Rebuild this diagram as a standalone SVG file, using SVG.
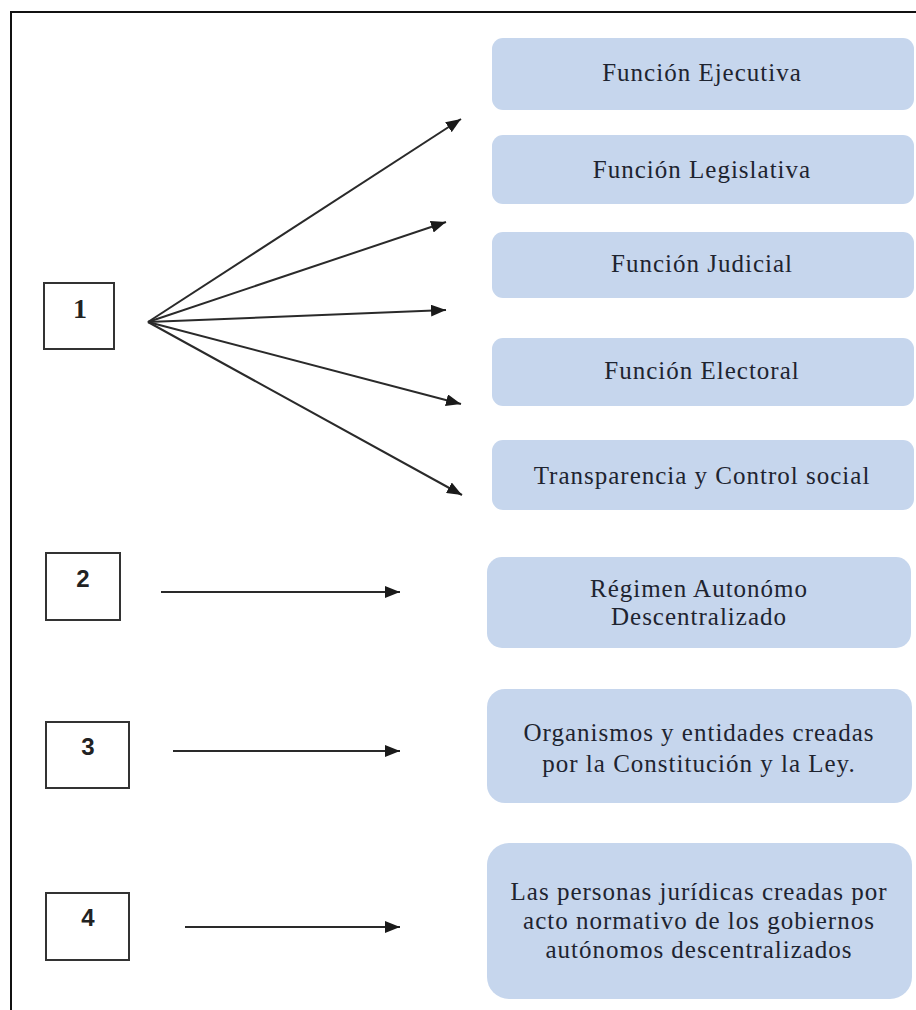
<svg xmlns="http://www.w3.org/2000/svg" width="916" height="1010" viewBox="0 0 916 1010">
<defs>
<style>
.bx{fill:#c6d6ed;}
.t{font-family:"Liberation Serif","Times New Roman",serif;font-size:25px;fill:#1e2430;text-anchor:middle;letter-spacing:1px;}
.nb{fill:#fff;stroke:#333;stroke-width:2;}
.n1{font-family:"Liberation Serif",serif;font-weight:bold;font-size:28px;fill:#222;text-anchor:middle;}
.n{font-family:"Liberation Sans",Arial,sans-serif;font-weight:bold;font-size:24px;fill:#222;text-anchor:middle;}
.c{stroke:#2a2a2a;stroke-width:2;fill:none;marker-end:url(#ah);}
</style>
<marker id="ah" markerUnits="userSpaceOnUse" markerWidth="16" markerHeight="12" refX="15" refY="6" orient="auto">
<path d="M0,0 L15,6 L0,12 z" fill="#1a1a1a"/>
</marker>
</defs>
<rect width="916" height="1010" fill="#fff"/>
<path d="M11,1010 V12 H916" fill="none" stroke="#111" stroke-width="2"/>

<g id="n-ejecutiva"><rect class="bx" x="492" y="38" width="422" height="72" rx="11"/><text class="t" x="702" y="81">Función Ejecutiva</text></g>
<g id="n-legislativa"><rect class="bx" x="492" y="135" width="422" height="69" rx="11"/><text class="t" x="702" y="178">Función Legislativa</text></g>
<g id="n-judicial"><rect class="bx" x="492" y="232" width="422" height="66" rx="11"/><text class="t" x="702" y="272">Función Judicial</text></g>
<g id="n-electoral"><rect class="bx" x="492" y="338" width="422" height="68" rx="11"/><text class="t" x="702" y="379">Función Electoral</text></g>
<g id="n-transparencia"><rect class="bx" x="492" y="440" width="422" height="70" rx="11"/><text class="t" x="702" y="484">Transparencia y Control social</text></g>
<g id="n-regimen"><rect class="bx" x="487" y="557" width="424" height="91" rx="15"/><text class="t" x="699" y="597">Régimen Autonómo</text><text class="t" x="699" y="625">Descentralizado</text></g>
<g id="n-organismos"><rect class="bx" x="487" y="689" width="425" height="114" rx="18"/><text class="t" x="699" y="741">Organismos y entidades creadas</text><text class="t" x="699" y="772">por la Constitución y la Ley.</text></g>
<g id="n-personas"><rect class="bx" x="487" y="843" width="425" height="156" rx="22"/><text class="t" x="699" y="900">Las personas jurídicas creadas por</text><text class="t" x="699" y="929">acto normativo de los gobiernos</text><text class="t" x="699" y="958">autónomos descentralizados</text></g>

<g id="b1"><rect class="nb" x="44" y="283" width="70" height="66"/><text class="n1" x="80" y="318">1</text></g>
<g id="b2"><rect class="nb" x="46" y="553" width="74" height="67"/><text class="n" x="83" y="587">2</text></g>
<g id="b3"><rect class="nb" x="46" y="722" width="83" height="66"/><text class="n" x="88" y="755">3</text></g>
<g id="b4"><rect class="nb" x="46" y="893" width="83" height="67"/><text class="n" x="88" y="926">4</text></g>

<g id="connectors">
<line class="c" x1="148" y1="322" x2="461" y2="119"/>
<line class="c" x1="148" y1="322" x2="446" y2="222"/>
<line class="c" x1="148" y1="322" x2="446" y2="310"/>
<line class="c" x1="148" y1="322" x2="461" y2="404"/>
<line class="c" x1="148" y1="322" x2="462" y2="495"/>
<line class="c" x1="161" y1="592" x2="400" y2="592"/>
<line class="c" x1="173" y1="751" x2="400" y2="751"/>
<line class="c" x1="185" y1="927" x2="400" y2="927"/>
</g>
</svg>
